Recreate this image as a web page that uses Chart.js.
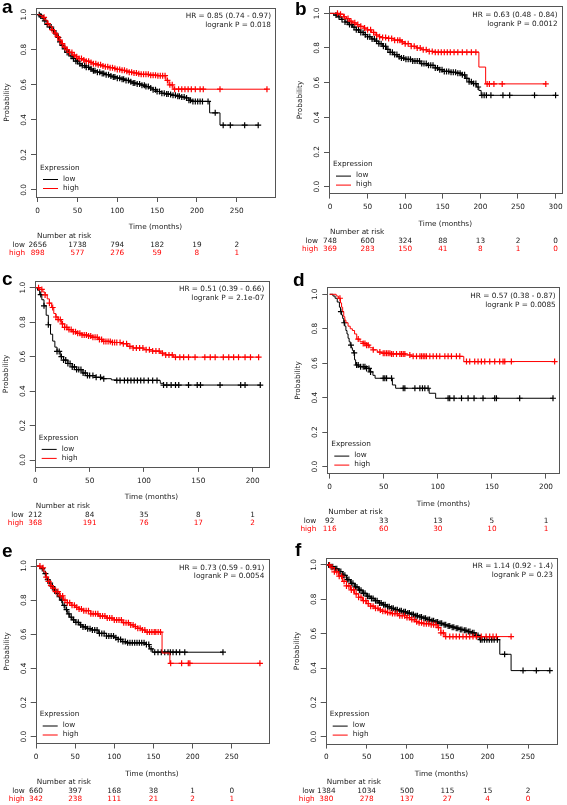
<!DOCTYPE html>
<html>
<head>
<meta charset="utf-8">
<script src="https://cdn.jsdelivr.net/npm/chart.js@4.4.0/dist/chart.umd.min.js"></script>
<style>
  html, body { margin: 0; padding: 0; background: #fff; }
  #fig { position: relative; width: 567px; height: 805px; overflow: hidden; }
  #fig canvas { position: absolute; }
</style>
</head>
<body>
<div id="fig">
  <canvas id="pa" width="283" height="265" style="left:0px;top:0px"></canvas>
  <canvas id="pb" width="284" height="265" style="left:283px;top:0px"></canvas>
  <canvas id="pc" width="283" height="270" style="left:0px;top:265px"></canvas>
  <canvas id="pd" width="284" height="270" style="left:283px;top:265px"></canvas>
  <canvas id="pe" width="283" height="270" style="left:0px;top:535px"></canvas>
  <canvas id="pf" width="284" height="270" style="left:283px;top:535px"></canvas>
</div>
<script>
// ---- data ----
const yTicks = [0, 0.2, 0.4, 0.6, 0.8, 1.0];

// panel a
const aTicks = [0, 50, 100, 150, 200, 250];
const aLowT = [0,3,6,9,12,15,18,21,24,27,30,33,36,40,44,48,52,56,60,65,70,75,80,85,90,95,100,105,110,115,120,125,130,135,140,145,150,155,160,165,170,175,180,185,190,195,216,229];
const aLowS = [1,0.993,0.98,0.965,0.945,0.93,0.91,0.89,0.87,0.845,0.825,0.805,0.785,0.765,0.75,0.735,0.72,0.71,0.7,0.69,0.68,0.672,0.665,0.658,0.65,0.645,0.638,0.632,0.625,0.617,0.61,0.605,0.598,0.59,0.582,0.572,0.562,0.552,0.548,0.545,0.54,0.535,0.53,0.525,0.512,0.505,0.44,0.37];
const aLowC = [2,4,7,9,12,15,17,20,23,26,28,31,34,37,39,42,45,48,50,53,56,59,61,64,67,70,72,75,78,81,83,86,89,92,95,97,100,103,106,108,111,114,117,120,122,125,128,131,134,136,139,142,145,148,150,153,156,159,162,164,167,170,173,176,178,181,184,187,190,192,195,198,201,204,207,214,223,233,242,260,277];
const aHighT = [0,3,6,9,12,15,18,21,24,27,30,33,36,40,44,48,52,56,60,65,70,75,80,85,90,95,100,105,110,115,120,125,130,140,150,161,165,170];
const aHighS = [1,0.995,0.985,0.97,0.95,0.935,0.915,0.895,0.875,0.855,0.835,0.815,0.8,0.785,0.77,0.76,0.75,0.742,0.735,0.728,0.72,0.714,0.708,0.703,0.698,0.693,0.688,0.683,0.678,0.672,0.668,0.663,0.66,0.655,0.652,0.625,0.6,0.575];
const aHighC = [8,13,18,22,25,28,31,34,37,40,43,46,49,52,55,58,61,64,67,70,73,76,79,82,85,88,91,94,97,100,103,106,109,112,115,118,121,124,127,130,133,136,139,142,145,148,151,154,157,160,163,166,169,172,177,181,185,189,193,198,204,208,229,288];
const aRiskLow = [2656, 1738, 794, 182, 19, 2];
const aRiskHigh = [898, 577, 276, 59, 8, 1];
const aStats = ['HR = 0.85 (0.74 - 0.97)', 'logrank P = 0.018'];

// panel b
const bTicks = [0, 50, 100, 150, 200, 250, 300];
const bLowT = [0,5,10,15,20,25,30,35,40,45,50,55,60,65,70,75,80,85,90,95,100,110,120,130,140,145,150,160,168,175,180,185,190,195,198,201];
const bLowS = [1,0.99,0.98,0.965,0.95,0.935,0.92,0.905,0.89,0.877,0.865,0.852,0.84,0.825,0.81,0.792,0.775,0.762,0.75,0.742,0.735,0.725,0.71,0.7,0.685,0.675,0.665,0.66,0.655,0.645,0.625,0.605,0.595,0.575,0.555,0.527];
const bLowC = [8,12,16,20,23,26,29,32,35,38,41,44,47,50,53,56,59,62,65,68,71,74,77,80,83,86,89,92,95,98,101,104,107,110,113,116,119,122,125,128,131,134,137,140,143,146,149,152,155,158,161,164,167,170,173,176,179,182,185,188,191,194,197,202,205,208,214,230,239,272,300];
const bHighT = [0,12,18,22,26,30,35,40,45,50,55,60,65,70,75,85,95,100,108,115,122,130,137,198,207];
const bHighS = [1,0.995,0.98,0.97,0.955,0.945,0.935,0.925,0.915,0.905,0.89,0.875,0.865,0.86,0.855,0.845,0.835,0.825,0.81,0.8,0.79,0.78,0.776,0.69,0.593];
const bHighC = [10,14,19,24,28,33,37,41,46,50,54,58,62,66,70,74,78,82,86,90,93,96,100,104,108,112,116,120,124,128,132,136,140,144,148,152,156,160,165,170,176,182,188,194,209,212,218,229,287];
const bRiskLow = [748, 600, 324, 88, 13, 2, 0];
const bRiskHigh = [369, 283, 150, 41, 8, 1, 0];
const bStats = ['HR = 0.63 (0.48 - 0.84)', 'logrank P = 0.0012'];

// panel c
const cTicks = [0, 50, 100, 150, 200];
const cLowT = [0,2,4,6,8,10,12,14,16,18,20,23,26,30,34,38,43,48,55,62,70,75,115,118];
const cLowS = [1,0.985,0.96,0.93,0.895,0.84,0.785,0.73,0.69,0.655,0.63,0.6,0.58,0.56,0.54,0.525,0.505,0.49,0.48,0.472,0.465,0.462,0.445,0.435];
const cLowC = [5,8,12,20,22,24,26,28,30,32,34,36,38,40,42,44,46,48,50,53,56,60,63,75,78,82,85,88,91,94,97,100,104,108,112,118,121,125,129,132,141,149,152,170,189,193,207];
const cHighT = [0,4,7,9,11,13,15,17,19,21,24,27,30,34,38,43,48,53,58,62,70,80,85,90,100,108,115,120,127];
const cHighS = [1,0.99,0.975,0.958,0.935,0.91,0.885,0.85,0.83,0.815,0.79,0.77,0.757,0.745,0.735,0.726,0.72,0.712,0.7,0.688,0.682,0.675,0.66,0.65,0.64,0.632,0.62,0.61,0.597];
const cHighC = [3,6,9,13,16,19,21,23,25,27,29,31,33,35,37,39,41,43,45,47,49,51,53,55,57,59,61,63,65,67,69,71,73,75,78,81,84,87,90,93,96,99,102,105,108,111,114,117,120,123,126,129,133,136.5,141,147,156,161,165.5,173,178,182.5,187,193,198,205.5];
const cRiskLow = [212, 84, 35, 8, 1];
const cRiskHigh = [368, 191, 76, 17, 2];
const cStats = ['HR = 0.51 (0.39 - 0.66)', 'logrank P = 2.1e-07'];

// panel d
const dTicks = [0, 50, 100, 150, 200];
const dLowT = [0,3,5,7,9,10,11,12,13,14,15,16,17,18,19,20,21,22,23,24,27,33,37,40,42,58,61,92,98];
const dLowS = [1,0.99,0.977,0.955,0.925,0.9,0.88,0.86,0.835,0.815,0.79,0.77,0.745,0.725,0.705,0.69,0.675,0.66,0.62,0.59,0.58,0.57,0.55,0.53,0.513,0.474,0.455,0.426,0.397];
const dLowC = [10.4,13.5,19.7,22.7,24.9,26.4,28.6,31,32.6,34.1,36.3,37.8,49.5,51,52.6,57.2,68,69.5,78.8,83.4,85.8,88,91,109.5,111,115,121.9,128,133.5,141.8,152.6,154.2,175.7,206.5];
const dHighT = [0,6,8,10,11,12,13,14,15,17,19,21,23,25,28,31,34,37,40,44,48,56,70,76,124];
const dHighS = [1,0.99,0.977,0.95,0.925,0.9,0.87,0.85,0.835,0.815,0.8,0.79,0.77,0.74,0.725,0.715,0.705,0.69,0.678,0.665,0.658,0.654,0.648,0.64,0.61];
const dHighC = [9.5,26.4,31,32.6,34.1,35.7,40.3,46.4,49.5,51,52.6,54.1,55.7,57.2,58.8,61.8,64.9,66.4,68,69.5,74.1,77.2,80.3,83.4,84.9,86.5,88,89.5,92.6,95.7,98.8,101.8,106.5,109.5,112.6,117.2,120.3,126.5,129.5,134.1,137.2,140.3,143.4,148,152.6,157.2,160.3,161.9,168,208];
const dRiskLow = [92, 33, 13, 5, 1];
const dRiskHigh = [116, 60, 30, 10, 1];
const dStats = ['HR = 0.57 (0.38 - 0.87)', 'logrank P = 0.0085'];

// panel e
const eTicks = [0, 50, 100, 150, 200, 250];
const eLowT = [0,5,10,13,16,19,22,25,28,31,34,37,40,43,46,50,55,60,65,70,80,90,100,105,110,115,140,145,149];
const eLowS = [1,0.985,0.955,0.92,0.9,0.88,0.86,0.84,0.82,0.8,0.77,0.745,0.72,0.7,0.685,0.67,0.655,0.643,0.633,0.625,0.605,0.59,0.58,0.57,0.557,0.55,0.54,0.515,0.495];
const eLowC = [8,12,15,18,21,24,27,30,33,36,39,42,45,48,51,54,57,60,63,66,69,72,75,78,81,84,87,90,93,96,99,102,105,108,111,114,117,120,123,126,129,132,135,138,141,144,147,151.6,155.8,160,164.4,168.6,171.6,175,179.2,183.5,190,238.8];
const eHighT = [0,6,10,13,16,19,22,25,30,35,40,45,50,55,60,70,80,90,100,110,120,125,130,135,140,161,171];
const eHighS = [1,0.99,0.965,0.935,0.91,0.885,0.87,0.85,0.825,0.8,0.785,0.77,0.758,0.748,0.738,0.72,0.707,0.695,0.684,0.668,0.655,0.645,0.635,0.625,0.613,0.49,0.43];
const eHighC = [5,9,13,16,19,22,25,28,31,34,37,40,43,46,49,52,55,58,61,64,67,70,73,76,79,82,85,88,91,94,97,100,103,106,109,112,115,118,121,124,127,130,133,136,139,142,145,148,151,153,156,159,172,186,194.5,196.5,286];
const eRiskLow = [660, 397, 168, 38, 1, 0];
const eRiskHigh = [342, 238, 111, 21, 2, 1];
const eStats = ['HR = 0.73 (0.59 - 0.91)', 'logrank P = 0.0054'];

// panel f
const fTicks = [0, 50, 100, 150, 200, 250];
const fLowT = [0,5,10,15,20,25,30,35,40,45,50,55,60,65,70,75,80,85,90,95,100,105,110,115,120,125,130,135,140,145,150,155,160,165,170,175,180,185,190,215,229];
const fLowS = [1,0.99,0.978,0.962,0.94,0.915,0.893,0.872,0.853,0.835,0.818,0.805,0.792,0.779,0.768,0.757,0.748,0.74,0.733,0.727,0.72,0.712,0.704,0.697,0.69,0.682,0.675,0.668,0.66,0.652,0.645,0.638,0.632,0.625,0.62,0.612,0.605,0.59,0.565,0.48,0.385];
const fLowC = [3,6,8,11,13,16,18,21,23,26,28,31,33,36,38,41,43,46,48,51,53,56,58,61,63,66,68,71,73,76,78,81,83,86,88,91,93,96,98,101,103,106,108,111,113,116,118,121,123,126,128,131,133,136,138,141,143,146,148,151,153,156,158,161,163,166,168,171,173,176,178,181,183,186,188,191,193,196,199,202,205,208,212,221,243.8,260.3,277];
const fHighT = [0,5,10,15,20,25,30,35,40,45,50,55,60,65,70,75,80,90,100,105,110,115,120,130,138,142,147];
const fHighS = [1,0.985,0.96,0.935,0.905,0.878,0.855,0.832,0.812,0.792,0.775,0.76,0.748,0.738,0.73,0.723,0.717,0.705,0.694,0.682,0.67,0.663,0.658,0.652,0.635,0.605,0.583];
const fHighC = [4,7,10,13,16,19,22,25,28,31,34,37,40,43,46,49,52,55,58,61,64,67,70,73,76,79,82,85,88,91,94,97,100,103,106,109,112,115,118,121,124,127,130,133,136,139,142,145,148,153,157,161,165,169.4,173.5,177.7,181.8,186,192,198,202.5,206.6,210.7,229];
const fRiskLow = [1384, 1034, 500, 115, 15, 2];
const fRiskHigh = [380, 278, 137, 27, 4, 0];
const fStats = ['HR = 1.14 (0.92 - 1.4)', 'logrank P = 0.23'];

// ---- layout (page pixels) ----
const FONT = '"DejaVu Sans", sans-serif';
const TXT = 7.3;
const LOW_COL = '#000000';
const HIGH_COL = '#ff0000';

const panels = [
  { id: 'pa', letter: 'a', cell: [0, 0, 283, 265], box: [36, 7.7, 275, 197], xr: [-2.1, 298.1], lx: 2, ly: 13,
    ticks: aTicks, low: [aLowT, aLowS, aLowC], high: [aHighT, aHighS, aHighC], risk: [aRiskLow, aRiskHigh], stats: aStats },
  { id: 'pb', letter: 'b', cell: [283, 0, 284, 265], box: [329, 6.4, 561.6, 193.6], xr: [-1.3, 308], lx: 12, ly: 15,
    ticks: bTicks, low: [bLowT, bLowS, bLowC], high: [bHighT, bHighS, bHighC], risk: [bRiskLow, bRiskHigh], stats: bStats },
  { id: 'pc', letter: 'c', cell: [0, 265, 283, 270], box: [34.7, 280.8, 268.3, 466.9], xr: [-0.55, 214.4], lx: 2, ly: 20,
    ticks: cTicks, low: [cLowT, cLowS, cLowC], high: [cHighT, cHighS, cHighC], risk: [cRiskLow, cRiskHigh], stats: cStats },
  { id: 'pd', letter: 'd', cell: [283, 265, 284, 270], box: [327.3, 287.4, 559.7, 473.6], xr: [-2.2, 212.7], lx: 10, ly: 21,
    ticks: dTicks, low: [dLowT, dLowS, dLowC], high: [dHighT, dHighS, dHighC], risk: [dRiskLow, dRiskHigh], stats: dStats },
  { id: 'pe', letter: 'e', cell: [0, 535, 283, 270], box: [35.7, 559.2, 268.3, 743.5], xr: [-0.4, 296.7], lx: 2, ly: 22,
    ticks: eTicks, low: [eLowT, eLowS, eLowC], high: [eHighT, eHighS, eHighC], risk: [eRiskLow, eRiskHigh], stats: eStats },
  { id: 'pf', letter: 'f', cell: [283, 535, 284, 270], box: [325.7, 558.1, 557, 743.6], xr: [-0.75, 285.9], lx: 12, ly: 21,
    ticks: fTicks, low: [fLowT, fLowS, fLowC], high: [fHighT, fHighS, fHighC], risk: [fRiskLow, fRiskHigh], stats: fStats }
];

// survival value at time t for a step curve
function stepAt(T, S, t) {
  let v = S[0];
  for (let i = 0; i < T.length; i++) {
    if (T[i] <= t) v = S[i]; else break;
  }
  return v;
}

function curvePoints(T, S, C) {
  const pts = T.map((t, i) => ({ x: t, y: S[i] }));
  const last = Math.max(...C);
  if (last > T[T.length - 1]) pts.push({ x: last, y: S[S.length - 1] });
  return pts;
}

function censorPoints(T, S, C) {
  return C.map(t => ({ x: t, y: stepAt(T, S, t) }));
}

function drawRotated(ctx, text, x, y) {
  ctx.save();
  ctx.translate(x, y);
  ctx.rotate(-Math.PI / 2);
  ctx.textAlign = 'center';
  ctx.textBaseline = 'middle';
  ctx.fillText(text, 0, 0);
  ctx.restore();
}

function makePanel(p) {
  const [cx, cy, cw, ch] = p.cell;
  const [L, T, R, B] = p.box;
  const AX = 5; // tick length, the only room given to the axes

  const decor = {
    id: 'decor-' + p.id,
    afterDraw(chart) {
      const ctx = chart.ctx;
      const a = chart.chartArea;
      const xs = chart.scales.x, ys = chart.scales.y;
      ctx.save();
      // frame
      ctx.strokeStyle = '#555';
      ctx.lineWidth = 1;
      ctx.strokeRect(Math.round(a.left) + 0.5, Math.round(a.top) + 0.5,
                     Math.round(a.right - a.left), Math.round(a.bottom - a.top));
      ctx.fillStyle = '#1a1a1a';
      ctx.font = TXT + 'px ' + FONT;
      // y tick labels, rotated like base R
      yTicks.forEach(v => drawRotated(ctx, v.toFixed(1), a.left - 12, ys.getPixelForValue(v)));
      drawRotated(ctx, 'Probability', a.left - 29, (a.top + a.bottom) / 2);
      // x tick labels
      ctx.textAlign = 'center';
      ctx.textBaseline = 'middle';
      xs.ticks.forEach(t => ctx.fillText(String(t.value), xs.getPixelForValue(t.value), a.bottom + 14));
      ctx.fillText('Time (months)', (a.left + a.right) / 2, a.bottom + 30.5);
      // HR / logrank
      ctx.textAlign = 'right';
      ctx.fillText(p.stats[0], a.right - 4, a.top + 8.5);
      ctx.fillText(p.stats[1], a.right - 4, a.top + 17.3);
      // legend
      ctx.textAlign = 'left';
      ctx.fillText('Expression', a.left + 4, a.bottom - 29);
      ctx.fillText('low', a.left + 27, a.bottom - 18);
      ctx.fillText('high', a.left + 27, a.bottom - 9);
      ctx.lineWidth = 1;
      ctx.strokeStyle = LOW_COL;
      ctx.beginPath(); ctx.moveTo(a.left + 7, a.bottom - 17.5); ctx.lineTo(a.left + 22, a.bottom - 17.5); ctx.stroke();
      ctx.strokeStyle = HIGH_COL;
      ctx.beginPath(); ctx.moveTo(a.left + 7, a.bottom - 8.5); ctx.lineTo(a.left + 22, a.bottom - 8.5); ctx.stroke();
      // number at risk
      ctx.fillText('Number at risk', a.left + 1, a.bottom + 39);
      ctx.textAlign = 'right';
      ctx.fillText('low', a.left - 11, a.bottom + 48);
      ctx.fillStyle = HIGH_COL;
      ctx.fillText('high', a.left - 11, a.bottom + 56);
      ctx.textAlign = 'center';
      p.ticks.forEach((t, i) => {
        const px = xs.getPixelForValue(t);
        ctx.fillStyle = '#1a1a1a';
        ctx.fillText(String(p.risk[0][i]), px, a.bottom + 48);
        ctx.fillStyle = HIGH_COL;
        ctx.fillText(String(p.risk[1][i]), px, a.bottom + 56);
      });
      // panel letter
      ctx.fillStyle = '#000';
      ctx.font = 'bold 19px "Liberation Sans", Arial, sans-serif';
      ctx.textAlign = 'left';
      ctx.textBaseline = 'alphabetic';
      ctx.fillText(p.letter, p.lx, p.ly);
      ctx.restore();
    }
  };

  const axisGrid = { drawOnChartArea: false, drawTicks: true, tickLength: AX, color: '#555', lineWidth: 1 };

  new Chart(document.getElementById(p.id), {
    type: 'line',
    data: {
      datasets: [
        { data: curvePoints(...p.high), borderColor: HIGH_COL, borderWidth: 1, stepped: true, pointRadius: 0, fill: false },
        { data: censorPoints(...p.high), type: 'scatter', showLine: false, borderColor: HIGH_COL, backgroundColor: HIGH_COL,
          pointStyle: 'cross', pointRadius: 3, borderWidth: 1.2 },
        { data: curvePoints(...p.low), borderColor: LOW_COL, borderWidth: 1, stepped: true, pointRadius: 0, fill: false },
        { data: censorPoints(...p.low), type: 'scatter', showLine: false, borderColor: LOW_COL, backgroundColor: LOW_COL,
          pointStyle: 'cross', pointRadius: 3, borderWidth: 1.2 }
      ]
    },
    options: {
      responsive: false,
      animation: false,
      devicePixelRatio: 1,
      layout: { padding: { left: L - cx - AX, top: T - cy, right: cx + cw - R, bottom: cy + ch - B - AX } },
      plugins: { legend: { display: false }, tooltip: { enabled: false } },
      scales: {
        x: {
          type: 'linear', min: p.xr[0], max: p.xr[1],
          afterBuildTicks: s => { s.ticks = p.ticks.map(v => ({ value: v })); },
          afterFit: s => { s.height = AX; },
          ticks: { display: false },
          grid: axisGrid,
          border: { display: false }
        },
        y: {
          type: 'linear', min: -0.04, max: 1.04,
          afterBuildTicks: s => { s.ticks = yTicks.map(v => ({ value: v })); },
          afterFit: s => { s.width = AX; },
          ticks: { display: false },
          grid: axisGrid,
          border: { display: false }
        }
      }
    },
    plugins: [decor]
  });
}

panels.forEach(makePanel);
</script>
</body>
</html>
